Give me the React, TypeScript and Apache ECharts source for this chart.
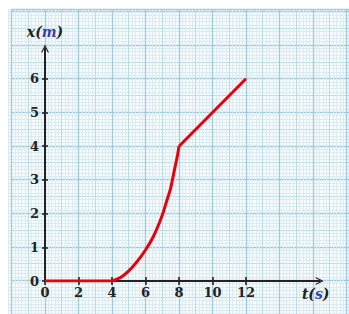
import React, { useEffect, useRef } from "react";
import * as echarts from "echarts";

// ---- data ----
const flatT = [0, 4];
const flatX = [0, 0];
const curveT = [4, 4.5, 5, 5.5, 6, 6.5, 7, 7.25, 7.5, 7.75, 7.9, 8];
const curveX = [0, 0.1, 0.3, 0.58, 0.92, 1.35, 1.95, 2.35, 2.75, 3.35, 3.7, 4];
const lineT = [8, 12];
const lineX = [4, 6];
const xTickMax = 12;
const yTickMax = 6;

// ---- layout ----
const W = 349;
const H = 314;
const X0 = 45; // px of t = 0
const SX = 16.75; // px per second
const Y0 = 281; // px of x = 0
const SY = 33.7; // px per metre

const FONT = "DejaVu Serif";
const INK = "#222";

const zip = (a: number[], b: number[]) => a.map((v, i) => [v, b[i]]);

function paperGrid(xMin: number, xMax: number, yMin: number, yMax: number) {
  return {
    left: X0 + xMin * SX,
    top: Y0 - yMax * SY,
    width: (xMax - xMin) * SX,
    height: (yMax - yMin) * SY,
  };
}

function splitAxis(
  gridIndex: number,
  min: number,
  max: number,
  interval: number,
  color: string,
  width: number
) {
  return {
    type: "value",
    gridIndex,
    min,
    max,
    interval,
    axisLine: { show: false },
    axisTick: { show: false },
    axisLabel: { show: false },
    splitLine: { show: true, lineStyle: { color, width } },
  };
}

export default function App() {
  const ref = useRef<HTMLDivElement>(null);
  useEffect(() => {
    if (!ref.current) return;
    const chart = echarts.init(ref.current, null, { renderer: "svg" });

    const xMaxData = 16.4;
    const yMaxData = 6.9;

    const arrow = "path://M0,10 L5,0 L10,10 L8.4,10 L5,3.2 L1.6,10 Z";

    const labelStyle = {
      fontFamily: FONT,
      fontWeight: "bold",
      fontSize: 13,
      color: INK,
    };
    const nameRich = {
      a: { fontFamily: FONT, fontStyle: "italic", fontWeight: "bold", fontSize: 14, color: INK },
      b: { fontFamily: FONT, fontStyle: "italic", fontWeight: "bold", fontSize: 14, color: "#3b3fa8" },
    };

    const redLine = { color: "#e8000c", width: 3 };

    const option = {
      animation: false,
      backgroundColor: "#ffffff",
      graphic: [
        {
          type: "rect",
          shape: { x: 8, y: 10, width: W - 8, height: H - 10 },
          style: { fill: "#f6fbfd" },
          z: -10,
        },
      ],
      grid: [
        paperGrid(-2.2, 18.15, -1, 8.05),
        paperGrid(-2, 18.15, -1, 8.05),
        paperGrid(-2, 18.15, -1, 8.05),
        { left: X0, top: Y0 - yMaxData * SY, width: xMaxData * SX, height: yMaxData * SY },
        { left: X0, top: Y0 - 4, width: xTickMax * SX, height: 8 },
        { left: X0 - 4, top: Y0 - yTickMax * SY, width: 8, height: yTickMax * SY },
      ],
      xAxis: [
        splitAxis(0, -2.2, 18.15, 0.2, "#dcebf1", 1),
        splitAxis(1, -2, 18.15, 1, "#bcdbe7", 1),
        splitAxis(2, -2, 18.15, 2, "#9ecbdd", 1.3),
        {
          type: "value",
          gridIndex: 3,
          min: 0,
          max: xMaxData,
          interval: 2,
          splitLine: { show: false },
          axisTick: { show: false },
          axisLine: {
            show: true,
            symbol: ["none", arrow],
            symbolSize: [11, 8],
            lineStyle: { color: INK, width: 2 },
          },
          axisLabel: {
            ...labelStyle,
            margin: 5,
            formatter: (v: number) => (v <= xTickMax ? String(v) : ""),
          },
          name: "{a|t(}{b|s}{a|)}",
          nameLocation: "end",
          nameGap: -4,
          nameTextStyle: { rich: nameRich, align: "center", verticalAlign: "top", padding: [6, 0, 0, 0] },
        },
        {
          type: "value",
          gridIndex: 4,
          min: 0,
          max: xTickMax,
          interval: 2,
          axisLine: { show: false },
          axisTick: { show: false },
          axisLabel: { show: false },
          splitLine: { show: true, lineStyle: { color: INK, width: 1.6 } },
        },
        { type: "value", gridIndex: 5, min: 0, max: 1, show: false },
      ],
      yAxis: [
        splitAxis(0, -1, 8.05, 0.1, "#dcebf1", 1),
        splitAxis(1, -1, 8.05, 0.5, "#bcdbe7", 1),
        splitAxis(2, -1, 8.05, 1, "#9ecbdd", 1.3),
        {
          type: "value",
          gridIndex: 3,
          min: 0,
          max: yMaxData,
          interval: 1,
          splitLine: { show: false },
          axisTick: { show: false },
          axisLine: {
            show: true,
            symbol: ["none", arrow],
            symbolSize: [11, 8],
            lineStyle: { color: INK, width: 2 },
          },
          axisLabel: {
            ...labelStyle,
            margin: 6,
            formatter: (v: number) => (v <= yTickMax ? String(v) : ""),
          },
          name: "{a|x(}{b|m}{a|)}",
          nameLocation: "end",
          nameGap: 9,
          nameTextStyle: { rich: nameRich, align: "center" },
        },
        { type: "value", gridIndex: 4, min: 0, max: 1, show: false },
        {
          type: "value",
          gridIndex: 5,
          min: 0,
          max: yTickMax,
          interval: 1,
          axisLine: { show: false },
          axisTick: { show: false },
          axisLabel: { show: false },
          splitLine: { show: true, lineStyle: { color: INK, width: 1.6 } },
        },
      ],
      series: [
        {
          type: "line",
          xAxisIndex: 3,
          yAxisIndex: 3,
          data: zip(flatT, flatX),
          showSymbol: false,
          lineStyle: redLine,
          z: 5,
        },
        {
          type: "line",
          xAxisIndex: 3,
          yAxisIndex: 3,
          data: zip(curveT, curveX),
          smooth: 0.2,
          showSymbol: false,
          lineStyle: redLine,
          z: 5,
        },
        {
          type: "line",
          xAxisIndex: 3,
          yAxisIndex: 3,
          data: zip(lineT, lineX),
          showSymbol: false,
          lineStyle: redLine,
          z: 5,
        },
      ],
    };

    chart.setOption(option as any);
    return () => chart.dispose();
  }, []);

  return (
    <div
      ref={ref}
      style={{ position: "fixed", left: 0, top: 0, width: W, height: H }}
    />
  );
}
